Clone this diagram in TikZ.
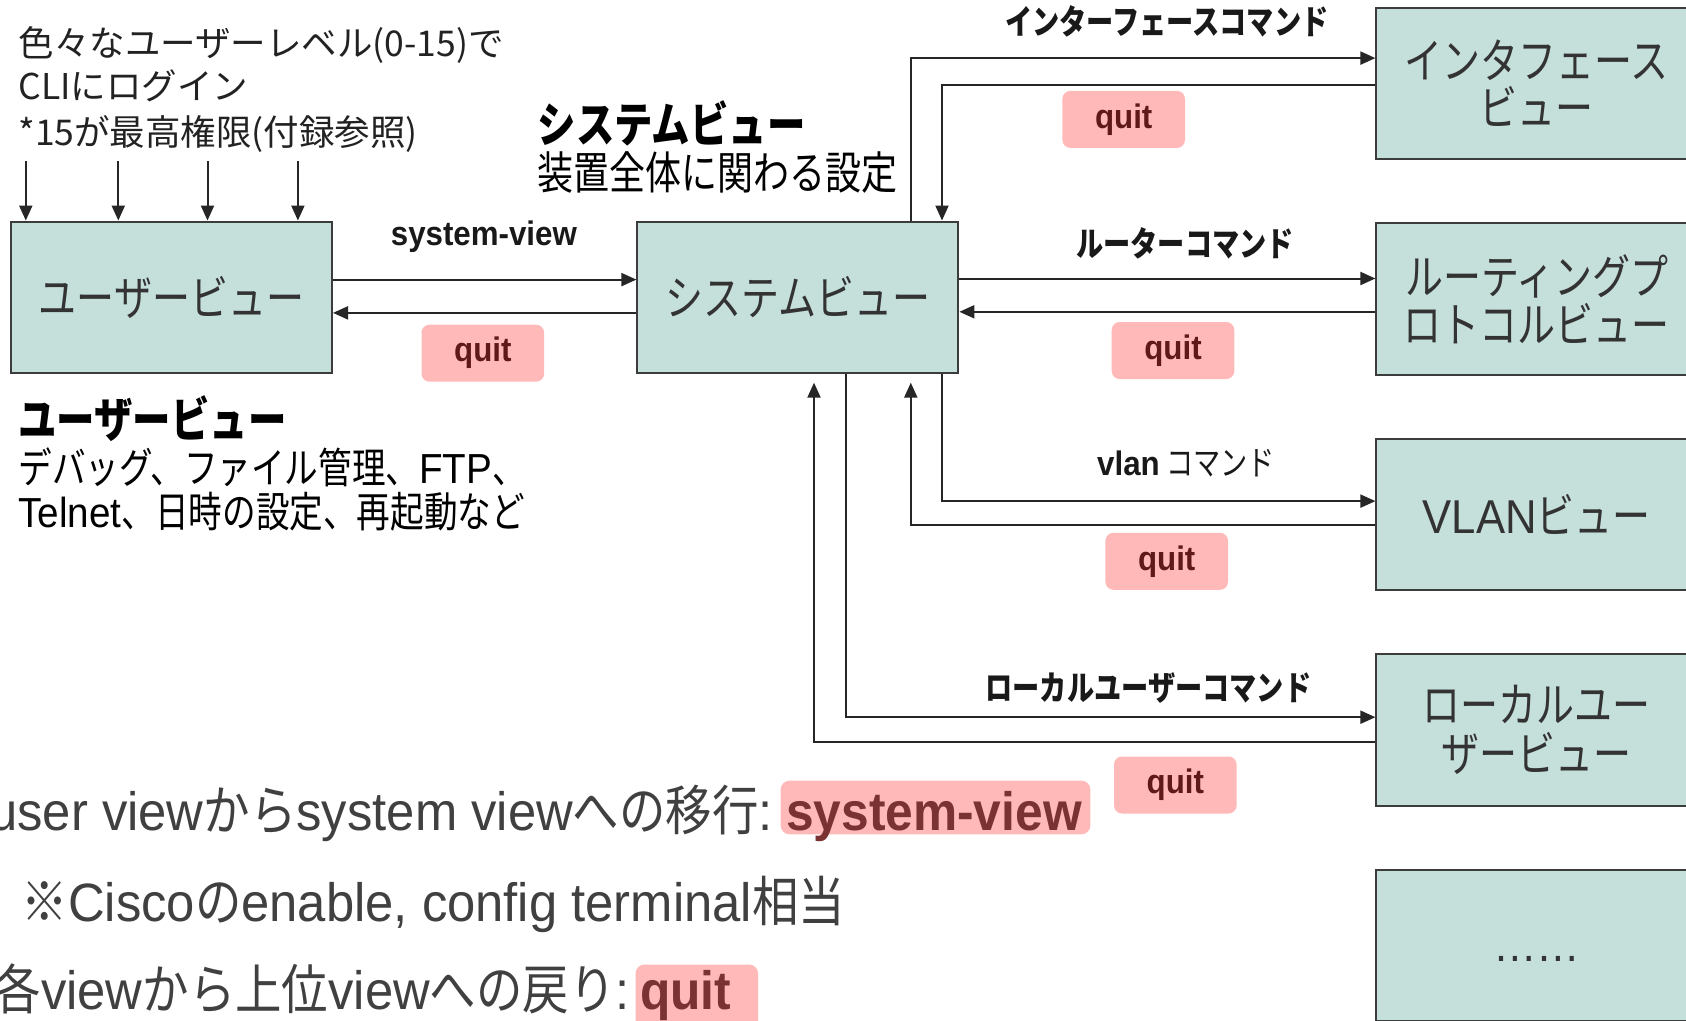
\documentclass[tikz,border=0pt]{standalone}
\usepackage{fontspec}
\usetikzlibrary{arrows.meta}
% condensed Japanese face, plain Japanese face, condensed Latin face
\newfontfamily\jp[FakeStretch=0.8]{Noto Sans CJK JP}
\newfontfamily\jpw{Noto Sans CJK JP}
\newfontfamily\lat[FakeStretch=0.92]{Liberation Sans}
% slightly wider faces for the footnotes
\newfontfamily\jpf[FakeStretch=0.86]{Noto Sans CJK JP}
\newfontfamily\latf[FakeStretch=0.94]{Liberation Sans}

\definecolor{boxfill}{RGB}{197,223,219}
\definecolor{boxline}{RGB}{60,60,60}
\definecolor{wire}{RGB}{38,38,38}
\definecolor{pill}{RGB}{255,185,185}
\definecolor{quitink}{RGB}{95,25,25}
\definecolor{cmdink}{RGB}{122,50,50}
\definecolor{boxink}{RGB}{51,51,51}
\definecolor{noteink}{RGB}{34,34,34}
\definecolor{footink}{RGB}{64,64,64}

\begin{document}
\begin{tikzpicture}[x=1pt,y=-1pt,
  view/.style={draw=boxline, line width=2pt, fill=boxfill, minimum width=321pt,
    minimum height=151.5pt, inner sep=0pt, align=center, text=boxink,
    font=\jp\fontsize{47.5}{48.4}\selectfont},
  arr/.style={draw=wire, line width=2pt, -{Triangle[length=15pt,width=13pt]}},
  quitbox/.style={fill=pill, rounded corners=8pt, minimum width=122.6pt,
    minimum height=57pt, inner sep=0pt, text=quitink,
    font=\lat\bfseries\fontsize{34}{34}\selectfont},
  cmdlbl/.style={inner sep=0pt, text=black!90,
    font=\jp\bfseries\fontsize{34}{34}\selectfont},
  note/.style={anchor=base west, inner sep=0pt, text=noteink,
    font=\jpw\fontsize{35.5}{35.5}\selectfont},
  head/.style={anchor=base west, inner sep=0pt, text=black,
    font=\jp\bfseries\fontsize{48}{48}\selectfont},
  foot/.style={inner sep=0pt, text=footink, font=\jpf\fontsize{54}{54}\selectfont},
  footpill/.style={fill=pill, rounded corners=9pt, inner sep=0pt}
]
\clip (0,0) rectangle (1686,1020);
\fill[white] (0,0) rectangle (1686,1020);

% view boxes
\node[view] (user)  at (171.5,297.3)  {ユーザービュー};
\node[view] (sys)   at (797.9,297.3)  {システムビュー};
\node[view] (iface) at (1536.9,83.3)  {\raisebox{-2pt}{インタフェース}\\ビュー};
\node[view] (route) at (1536.9,299.0) {ルーティングプ\\ロトコルビュー};
\node[view] (vlan)  at (1536.9,514.4) {{\lat VLAN}ビュー};
\node[view] (luser) at (1536.9,729.8) {ローカルユー\\ザービュー};
\node[view] (more)  at (1536.9,945.5) {};
\node[anchor=base, inner sep=0pt, text=boxink,
  font=\lat\fontsize{47.5}{47.5}\selectfont] (moredots) at (1536.9,961) {……};

% login note with arrows into the user view
\node[note] (n1) at (18.3,56)  {色々なユーザーレベル(0-15)で};
\node[note] (n2) at (18.3,99)  {CLIにログイン};
\node[note] (n3) at (18.3,145) {*15が最高権限(付録参照)};
\foreach \x [count=\i] in {25.8,118.3,207.5,297.9} {
  \coordinate (in\i) at (\x,161.3);
  \draw[arr] (in\i) -- (in\i |- user.north);
}

% headings
\node[head] (uh) at (18.3,437.6) {ユーザービュー};
\node[anchor=base west, inner sep=0pt, font=\jp\fontsize{42}{42}\selectfont]
  (ud1) at (18.3,483.8) {デバッグ、ファイル管理、{\lat FTP}、};
\node[anchor=base west, inner sep=0pt, font=\jp\fontsize{42}{42}\selectfont]
  (ud2) at (18.3,527.8) {{\lat Telnet}、日時の設定、再起動など};
\node[head] (sh) at (537.6,142) {システムビュー};
\node[anchor=base west, inner sep=0pt, font=\jp\fontsize{45}{45}\selectfont]
  (sd1) at (537.6,189) {装置全体に関わる設定};

% user <-> system
\coordinate (svA) at (0,279.6);
\coordinate (svB) at (0,312.9);
\draw[arr] (user.east |- svA) -- (sys.west |- svA);
\draw[arr] (sys.west |- svB) -- (user.east |- svB);
\node[cmdlbl] (lsv) at (483.9,236.6) {{\lat system-view}};
\node[quitbox] (q1) at (482.8,353.2) {quit};

% system <-> interface
\coordinate (ifA) at (910.8,58.1);
\coordinate (ifB) at (942,84.9);
\draw[arr] (sys.north -| ifA) |- (iface.west |- ifA);
\draw[arr] (iface.west |- ifB) -| (sys.north -| ifB);
\node[cmdlbl] (lif) at (1166.7,21.5) {インターフェースコマンド};
\node[quitbox] (q2) at (1123.7,119.4) {quit};

% system <-> routing protocol
\coordinate (rtA) at (0,278.5);
\coordinate (rtB) at (0,311.8);
\draw[arr] (sys.east |- rtA) -- (route.west |- rtA);
\draw[arr] (route.west |- rtB) -- (sys.east |- rtB);
\node[cmdlbl] (lrt) at (1185,243) {ルーターコマンド};
\node[quitbox] (q3) at (1173,350.5) {quit};

% system <-> vlan
\coordinate (vlA) at (942,501.1);
\coordinate (vlB) at (910.8,524.7);
\draw[arr] (sys.south -| vlA) |- (vlan.west |- vlA);
\draw[arr, shorten >=8.6pt] (vlan.west |- vlB) -| (sys.south -| vlB);
\node[cmdlbl] (lvl) at (1186,463.4) {{\lat vlan} {\mdseries コマンド}};
\node[quitbox] (q4) at (1166.7,561.3) {quit};

% system <-> local user
\coordinate (luA) at (846.3,717.2);
\coordinate (luB) at (814,742);
\draw[arr] (sys.south -| luA) |- (luser.west |- luA);
\draw[arr, shorten >=8.6pt] (luser.west |- luB) -| (sys.south -| luB);
\node[cmdlbl] (llu) at (1148.4,688.2) {ローカルユーザーコマンド};
\node[quitbox] (q5) at (1175.3,785) {quit};

% footnotes
\node[foot, anchor=base east] (f1) at (773,830)
  {{\latf user view}から{\latf system view}への移行{\latf :}};
\node[footpill, minimum width=309.7pt, minimum height=53.7pt] (svpill) at (935.5,807.5) {};
\node[anchor=base west, inner sep=0pt, text=cmdink,
  font=\lat\bfseries\fontsize{54}{54}\selectfont] (svcmd) at (786,830) {system-view};

\node[foot, anchor=base west] (f2) at (21.5,921.5)
  {※{\latf Cisco}の{\latf enable, config terminal}相当};

\node[foot, anchor=base east] (f3) at (630,1009.5)
  {各{\latf view}から上位{\latf view}への戻り{\latf :}};
\node[footpill, minimum width=122.5pt, minimum height=70pt] (qpill) at (696.8,999.5) {};
\node[anchor=base west, inner sep=0pt, text=cmdink,
  font=\lat\bfseries\fontsize{54}{54}\selectfont] (qcmd) at (640,1009.5) {quit};
\end{tikzpicture}
\end{document}
